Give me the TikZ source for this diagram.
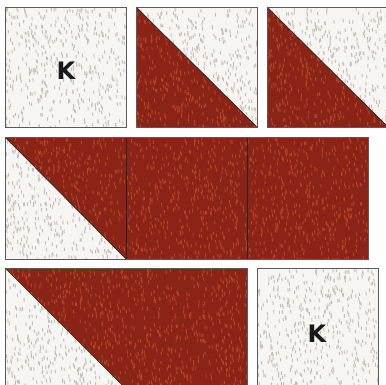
\documentclass[tikz,border=0pt]{standalone}
\usepackage{fontspec}
\setmainfont{DejaVu Sans}
\definecolor{muslin}{HTML}{F7F5F2}
\definecolor{muslinfleck}{HTML}{C6BEBA}
\definecolor{rust}{HTML}{8A2416}
\definecolor{rustfleck}{HTML}{B2452C}
\definecolor{seam}{HTML}{5A5A5A}

\tikzset{
  seamline/.style={draw=seam, line width=0.8pt},
  foldline/.style={draw=black!85, line width=0.7pt},
  letter/.style={font=\bfseries\fontsize{24}{24}\selectfont, text=black!90}
}

% random fabric specks over a box: x0, y0, width, height, colour
\newcommand{\flecks}[5]{%
  \foreach \k in {1,...,450}{
    \pgfmathsetmacro{\fx}{#1+#3*rnd}
    \pgfmathsetmacro{\fy}{#2+#4*rnd}
    \draw[#5, line width=1pt] (\fx,\fy) -- ++(0.3,3.4);
  }}

\begin{document}
\begin{tikzpicture}[x=1pt, y=-1pt]
    \pgfmathsetseed{11}
    \useasboundingbox (0,0) rectangle (386,385);
    \clip (0,0) rectangle (386,385);

    % Top row
    \fill[muslin] (5,7) rectangle (126,127);
    \begin{scope}
        \clip (5,7) rectangle (126,127);
        \flecks{5}{7}{121}{120}{muslinfleck}
    \end{scope}
    \node[letter] (ktop) at (66,71) {K};

    \foreach \x in {136,267} {
        \fill[muslin] (\x,7) rectangle ++(121,120);
        \begin{scope}
            \clip (\x,7) rectangle ++(121,120);
            \flecks{\x}{7}{121}{120}{muslinfleck}
        \end{scope}
        \begin{scope}
            \clip (\x,7) -- (\x,127) -- ++(121,0) -- cycle;
            \fill[rust] (\x,7) rectangle ++(121,120);
            \flecks{\x}{7}{121}{120}{rustfleck}
        \end{scope}
        \draw[foldline] (\x,7) -- ++(121,120);
    }

    % Middle row
    \fill[muslin] (5,137) rectangle (126,259);
    \begin{scope}
        \clip (5,137) rectangle (126,259);
        \flecks{5}{137}{121}{122}{muslinfleck}
    \end{scope}
    \begin{scope}
        \clip (5,137) -- (368,137) -- (368,259) -- (126,259) -- cycle;
        \fill[rust] (5,137) rectangle (368,259);
        \flecks{5}{137}{121}{122}{rustfleck}
        \flecks{126}{137}{121}{122}{rustfleck}
        \flecks{247}{137}{121}{122}{rustfleck}
    \end{scope}
    \draw[foldline] (5,137) -- (126,259);
    \draw[foldline] (126,137) -- (126,259);
    \draw[foldline] (247,137) -- (247,259);

    % Bottom row
    \fill[muslin] (5,268) rectangle (247,390);
    \begin{scope}
        \clip (5,268) rectangle (247,390);
        \flecks{5}{268}{121}{122}{muslinfleck}
    \end{scope}
    \begin{scope}
        \clip (5,268) -- (247,268) -- (247,390) -- (127,390) -- cycle;
        \fill[rust] (5,268) rectangle (247,390);
        \flecks{5}{268}{121}{122}{rustfleck}
        \flecks{126}{268}{121}{122}{rustfleck}
    \end{scope}
    \draw[foldline] (5,268) -- (127,390);

    \fill[muslin] (257,268) rectangle (378,390);
    \begin{scope}
        \clip (257,268) rectangle (378,390);
        \flecks{257}{268}{121}{122}{muslinfleck}
    \end{scope}
    \node[letter] (kbottom) at (317,334) {K};

    % Seams
    \draw[seamline] (5,7) rectangle (126,127);
    \draw[seamline] (136,7) rectangle (257,127);
    \draw[seamline] (267,7) rectangle (388,127);
    \draw[seamline] (5,137) rectangle (368,259);
    \draw[seamline] (5,268) rectangle (247,390);
    \draw[seamline] (257,268) rectangle (378,390);
\end{tikzpicture}
\end{document}
